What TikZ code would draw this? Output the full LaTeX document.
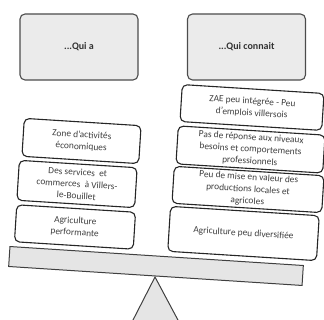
\documentclass[tikz,border=0pt]{standalone}
\usepackage{fontspec}
\setmainfont{Carlito}
\begin{document}
\begin{tikzpicture}[x=1pt,y=-1pt,
  hdr/.style={draw=black!70, line width=1.1pt, fill=black!8, rounded corners=5pt,
    minimum width=118pt, minimum height=66pt, text=black!80,
    font=\bfseries\fontsize{10}{12}\selectfont},
  item/.style={draw=black!85, line width=1.1pt, fill=white, rounded corners=5pt,
    rotate=-3.6, align=center, inner sep=0pt, text=black!75,
    font=\fontsize{9.4}{11.9}\selectfont},
  beamstyle/.style={draw=black!75, line width=1pt, fill=black!10, rotate=-3.7,
    minimum width=294pt, minimum height=20pt, inner sep=0pt}
]
\useasboundingbox (0,0) rectangle (324,320);
\clip (0,0) rectangle (324,320);
% headers
\node[hdr] (qa) at (79,47) {...Qui a};
\node[hdr] (qc) at (246.5,47) {...Qui connait};
% fulcrum
\coordinate (apex) at (155,277);
\draw[draw=black!75, line width=1pt, fill=black!10] (apex) -- (132,322) -- (179,322) -- cycle;
% beam
\node[beamstyle] (beam) at (156,266) {};
% left stack
\node[item, minimum width=117pt, minimum height=38pt] (l1) at (81.5,141) {Zone d'activités\\économiques};
\node[item, minimum width=118pt, minimum height=40pt] (l2) at (77,184) {Des services\ \ et\\commerces\ \ à Villers-\\le-Bouillet};
\node[item, minimum width=119pt, minimum height=37pt] (l3) at (75,227) {Agriculture\\performante};
% right stack
\node[item, minimum width=142pt, minimum height=37pt] (r1) at (252,107.5) {ZAE peu intégrée - Peu\\d'emplois villersois};
\node[item, minimum width=147pt, minimum height=38pt] (r2) at (250.5,149.5) {Pas de réponse aux niveaux\\besoins et comportements\\professionnels};
\node[item, minimum width=150pt, minimum height=37pt] (r3) at (248,189.5) {Peu de mise en valeur des\\productions locales et\\agricoles};
\node[item, minimum width=149pt, minimum height=45pt] (r4) at (243.5,233.5) {Agriculture peu diversifiée};
\end{tikzpicture}
\end{document}
